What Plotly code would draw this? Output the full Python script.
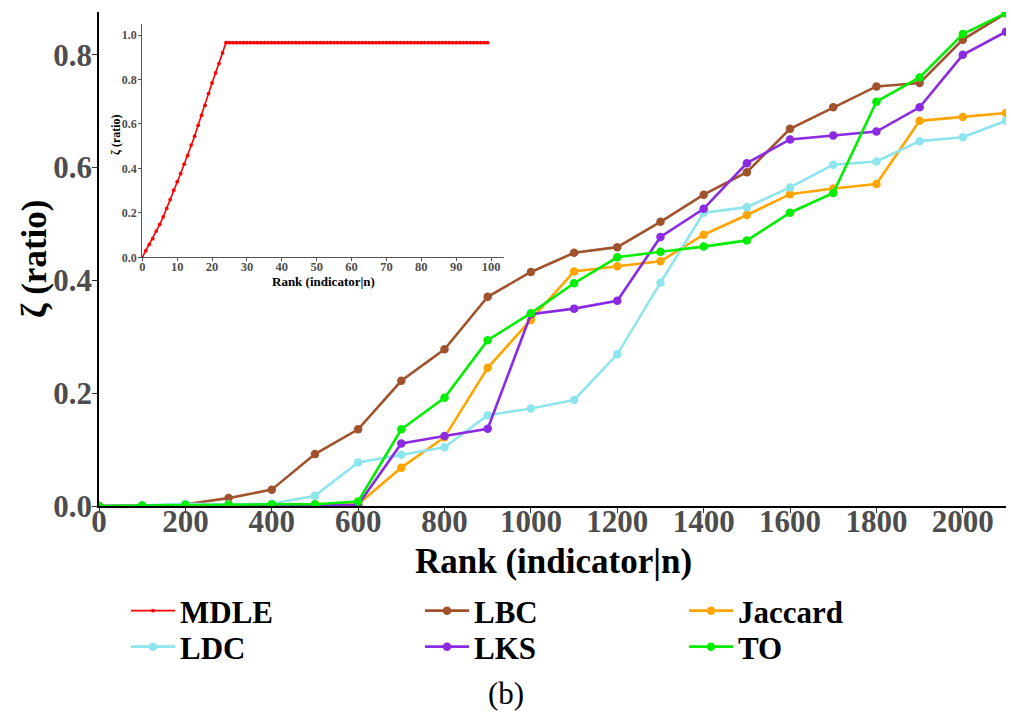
import plotly.graph_objects as go

# ---------------- data ----------------
rank_main = [0, 100, 200, 300, 400, 500, 600, 700, 800, 900, 1000,
             1100, 1200, 1300, 1400, 1500, 1600, 1700, 1800, 1900, 2000, 2100]

lbc = [0, 0, 0.003, 0.014, 0.029, 0.092, 0.136, 0.222, 0.278, 0.371, 0.415,
       0.449, 0.459, 0.504, 0.552, 0.592, 0.669, 0.707, 0.744, 0.750, 0.827, 0.874]
jaccard = [0, 0, 0.001, 0.001, 0.002, 0.002, 0.003, 0.068, 0.122, 0.245, 0.330,
           0.416, 0.425, 0.434, 0.481, 0.516, 0.553, 0.563, 0.571, 0.683, 0.690, 0.697]
ldc = [0, 0.001, 0.004, 0.003, 0.004, 0.018, 0.077, 0.091, 0.104, 0.161, 0.173,
       0.188, 0.269, 0.396, 0.520, 0.530, 0.565, 0.605, 0.611, 0.647, 0.654, 0.683]
lks = [0, 0, 0, 0.001, 0.001, 0.001, 0.002, 0.111, 0.124, 0.137, 0.340,
       0.350, 0.364, 0.477, 0.527, 0.608, 0.650, 0.657, 0.664, 0.707, 0.800, 0.841]
to = [0, 0.001, 0.002, 0.002, 0.003, 0.003, 0.008, 0.136, 0.192, 0.294, 0.342,
      0.395, 0.441, 0.451, 0.460, 0.471, 0.520, 0.555, 0.717, 0.760, 0.837, 0.874]

rank_inset = list(range(0, 100))
mdle = [0.000, 0.030, 0.058, 0.084, 0.118, 0.148, 0.182, 0.220, 0.260, 0.302,
        0.340, 0.377, 0.419, 0.458, 0.505, 0.545, 0.594, 0.639, 0.684, 0.737,
        0.785, 0.830, 0.872, 0.920, 0.966, 0.966, 0.966, 0.966, 0.966, 0.966,
        0.966, 0.966, 0.966, 0.966, 0.966, 0.966, 0.966, 0.966, 0.966, 0.966,
        0.966, 0.966, 0.966, 0.966, 0.966, 0.966, 0.966, 0.966, 0.966, 0.966,
        0.966, 0.966, 0.966, 0.966, 0.966, 0.966, 0.966, 0.966, 0.966, 0.966,
        0.966, 0.966, 0.966, 0.966, 0.966, 0.966, 0.966, 0.966, 0.966, 0.966,
        0.966, 0.966, 0.966, 0.966, 0.966, 0.966, 0.966, 0.966, 0.966, 0.966,
        0.966, 0.966, 0.966, 0.966, 0.966, 0.966, 0.966, 0.966, 0.966, 0.966,
        0.966, 0.966, 0.966, 0.966, 0.966, 0.966, 0.966, 0.966, 0.966, 0.966]

main_ticks = [0, 200, 400, 600, 800, 1000, 1200, 1400, 1600, 1800, 2000]
main_yticks = [0.0, 0.2, 0.4, 0.6, 0.8]
inset_ticks = [0, 10, 20, 30, 40, 50, 60, 70, 80, 90, 100]
inset_yticks = [0.0, 0.2, 0.4, 0.6, 0.8, 1.0]

series = [("LBC", lbc, "#A0522D"), ("Jaccard", jaccard, "#FFA500"),
          ("LDC", ldc, "#8EE5EE"), ("LKS", lks, "#8A2BE2"), ("TO", to, "#00EE00")]

# ---------------- layout geometry (pixels) ----------------
W, H = 1011, 717
L, R, T, B = 99, 5, 12, 211
PW, PH = W - L - R, H - T - B


def px_x(p):
    return (p - L) / PW


def px_y(p):
    return (H - B - p) / PH


SERIF = "Liberation Serif"
GRAY = "#4D4D4D"

fig = go.Figure()

# legend placement (symbol-left px, centre-y px)
leg_pos = {"MDLE": (126, 611), "LDC": (126, 647), "LBC": (420, 611),
           "LKS": (420, 647), "Jaccard": (684, 611), "TO": (684, 647)}
leg_ids = {"MDLE": "legend", "LDC": "legend2", "LBC": "legend3",
           "LKS": "legend4", "Jaccard": "legend5", "TO": "legend6"}

fig.add_trace(go.Scatter(x=rank_inset, y=mdle, mode="lines+markers", name="MDLE",
                         line=dict(color="#FF0000", width=1.6),
                         marker=dict(size=3.8, color="#FF0000"),
                         xaxis="x2", yaxis="y2", legend=leg_ids["MDLE"]))

for name, vals, col in series:
    fig.add_trace(go.Scatter(x=rank_main, y=vals, mode="lines+markers", name=name,
                             line=dict(color=col, width=2.6),
                             marker=dict(size=8.5, color=col),
                             legend=leg_ids[name]))

title_font_main = dict(family=SERIF, size=35, color="black", weight="bold")
title_font_inset = dict(family=SERIF, size=13, color="black", weight="bold")

layout = dict(
    width=W, height=H,
    showlegend=True,
    margin=dict(l=L, r=R, t=T, b=B, autoexpand=False),
    paper_bgcolor="white", plot_bgcolor="white",
    font=dict(family=SERIF, color="black"),
    xaxis=dict(range=[0, 2100], tickvals=main_ticks, showgrid=False, zeroline=False,
               showline=True, linecolor="black", linewidth=1.6, automargin=False,
               ticks="outside", ticklen=5, tickcolor="#333333", tickwidth=1.2,
               ticklabelstandoff=-18,
               tickfont=dict(family=SERIF, size=31, color=GRAY, weight="bold")),
    yaxis=dict(range=[0, 0.876], tickvals=main_yticks, tickformat=".1f",
               showgrid=False, zeroline=False, automargin=False,
               showline=True, linecolor="black", linewidth=1.6,
               ticks="outside", ticklen=5, tickcolor="#333333", tickwidth=1.2,
               ticklabelstandoff=-6,
               tickfont=dict(family=SERIF, size=31, color=GRAY, weight="bold")),
    xaxis2=dict(domain=[px_x(142.3), px_x(504)], anchor="y2", range=[0, 103.7],
                tickvals=inset_ticks, showgrid=False, zeroline=False, automargin=False,
                showline=True, linecolor="#555555", linewidth=1.2,
                ticks="outside", ticklen=3, tickcolor="#555555",
                ticklabelstandoff=-5,
                tickfont=dict(family=SERIF, size=12.5, color=GRAY, weight="bold")),
    yaxis2=dict(domain=[px_y(257.3), px_y(24)], anchor="x2", range=[0, 1.05],
                tickvals=inset_yticks, tickformat=".1f", showgrid=False, zeroline=False,
                automargin=False,
                showline=True, linecolor="#555555", linewidth=1.2,
                ticks="outside", ticklen=3, tickcolor="#555555",
                ticklabelstandoff=-1,
                tickfont=dict(family=SERIF, size=12, color=GRAY, weight="bold")),
    annotations=[
        dict(text="Rank (indicator|n)", x=px_x(553), y=px_y(561), xref="paper", yref="paper",
             showarrow=False, xanchor="center", yanchor="middle", font=title_font_main),
        dict(text="ζ (ratio)", x=px_x(34), y=px_y(259), xref="paper", yref="paper",
             showarrow=False, xanchor="center", yanchor="middle", textangle=-90,
             font=title_font_main),
        dict(text="Rank (indicator|n)", x=px_x(323), y=px_y(282), xref="paper", yref="paper",
             showarrow=False, xanchor="center", yanchor="middle", font=title_font_inset),
        dict(text="ζ (ratio)", x=px_x(116), y=px_y(135), xref="paper", yref="paper",
             showarrow=False, xanchor="center", yanchor="middle", textangle=-90,
             font=dict(family=SERIF, size=12, color="black", weight="bold")),
        dict(text="(b)", x=px_x(506), y=px_y(693), xref="paper", yref="paper",
             showarrow=False, xanchor="center", yanchor="middle",
             font=dict(family=SERIF, size=31, color="black")),
    ],
)

for name, (sx, sy) in leg_pos.items():
    layout[leg_ids[name]] = dict(
        x=px_x(sx), y=px_y(sy), xanchor="left", yanchor="middle",
        bgcolor="rgba(0,0,0,0)", borderwidth=0, itemwidth=44,
        font=dict(family=SERIF, size=31, color="black", weight="bold"))

fig.update_layout(**layout)
fig.write_html("out.html", config={"displayModeBar": False},
               post_script="document.body.style.margin='0';document.body.style.overflow='hidden';")
